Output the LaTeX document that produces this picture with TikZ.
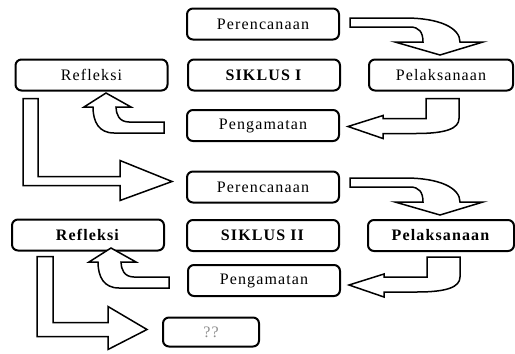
\documentclass[tikz,border=0pt]{standalone}
\usepackage{fontspec}
\setmainfont{Liberation Serif}[LetterSpace=7]
\tikzset{
	tahap/.style={draw, line width=2pt, rounded corners=6pt, minimum width=152pt, minimum height=31pt, inner sep=0pt, font=\fontsize{16}{19}\selectfont},
	panah/.style={draw, line width=1.5pt, fill=white, line join=miter},
	pics/belokbawah/.style={code={
		\draw[panah] (0,0) -- (55,0) .. controls (90,0) and (110,10) .. (110,24) -- (133,24) -- (90,37) -- (45,24) -- (73,24) .. controls (73,14) and (69,9) .. (60,9) -- (0,9) -- cycle;
	}},
	pics/belokkiri/.style={code={
		\draw[panah] (0,0) -- (0,20) -- (-43,20) -- (-43,17) -- (-78,28) -- (-43,40) -- (-43,35) -- (-10,35) .. controls (20,35) and (33,30) .. (33,20) -- (33,0) -- cycle;
	}},
	pics/belokatas/.style={code={
		\draw[panah] (0,0) -- (-35,0) .. controls (-45,0) and (-48,-8) .. (-48,-15) -- (-33,-15) -- (-58,-29) -- (-80,-15) -- (-71,-15) .. controls (-71,0) and (-65,11) .. (-50,11) -- (0,11) -- cycle;
	}}
}
\begin{document}
\begin{tikzpicture}[x=1pt, y=-1pt]
	\useasboundingbox (0,0) rectangle (515,354);
	\node[tahap] (pere1) at (263,24) {Perencanaan};
	\node[tahap] (siklus1) at (264,75) {\textbf{SIKLUS I}};
	\node[tahap, minimum width=144pt] (pel1) at (441,75) {Pelaksanaan};
	\node[tahap] (peng1) at (263,125.5) {Pengamatan};
	\node[tahap] (ref1) at (91.5,75) {Refleksi};
	\node[tahap] (pere2) at (263,187) {Perencanaan};
	\node[tahap] (siklus2) at (263,235.5) {\textbf{SIKLUS II}};
	\node[tahap, minimum width=146pt] (pel2) at (441,235.5) {\textbf{Pelaksanaan}};
	\node[tahap] (peng2) at (264,280.5) {Pengamatan};
	\node[tahap] (ref2) at (88,235) {\textbf{Refleksi}};
	\node[tahap, minimum width=96pt, minimum height=29pt, text=black!45] (lanjut) at (211,332) {??};

	\pic at ([shift={(10,-6)}]pere1.east) {belokbawah};
	\pic at ([shift={(-15,7)}]pel1.south) {belokkiri};
	\pic at ([shift={(-22,-3.5)}]peng1.west) {belokatas};
	\pic at ([shift={(10,-9)}]pere2.east) {belokbawah};
	\pic at ([shift={(-14,5)}]pel2.south) {belokkiri};
	\pic at ([shift={(-18,-3.5)}]peng2.west) {belokatas};

	\draw[panah] ([shift={(-68.5,7)}]ref1.south) -- ++(0,87) -- ++(97,0) -- ++(0,15) -- ++(52,-19) -- ++(-52,-21) -- ++(0,16) -- ++(-82,0) -- ++(0,-78) -- cycle;
	\draw[panah] ([shift={(-51,5)}]ref2.south) -- ++(0,80) -- ++(71,0) -- ++(0,13) -- ++(39,-20) -- ++(-39,-23) -- ++(0,16) -- ++(-55,0) -- ++(0,-66) -- cycle;
\end{tikzpicture}
\end{document}
